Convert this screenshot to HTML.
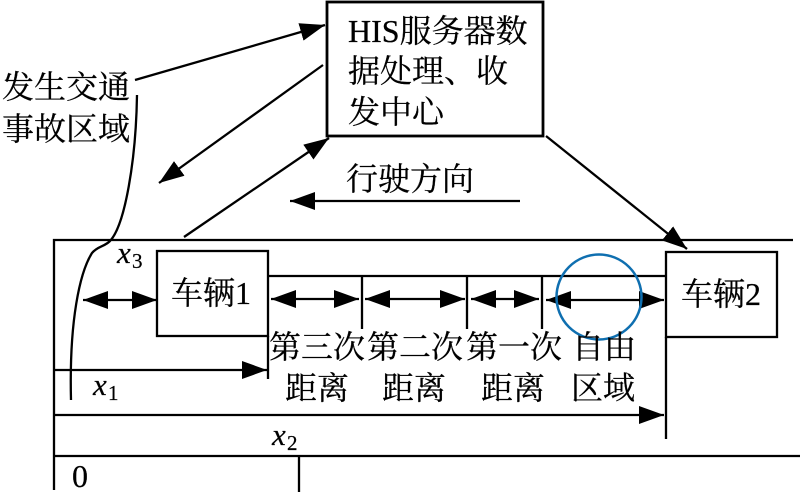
<!DOCTYPE html>
<html>
<head>
<meta charset="utf-8">
<style>
html,body{margin:0;padding:0;background:#fff;width:800px;height:497px;overflow:hidden}
svg{display:block}
text{font-family:"Liberation Serif","Noto Serif CJK SC",serif;font-size:32px;fill:#000;stroke:#000;stroke-width:.25px}
.i{font-style:italic;font-size:31px}
.s{font-size:21px}
</style>
</head>
<body>
<svg width="800" height="497" viewBox="0 0 800 497" xmlns="http://www.w3.org/2000/svg">
<defs>
<marker id="a" markerUnits="userSpaceOnUse" markerWidth="27" markerHeight="20" refX="25" refY="9" orient="auto-start-reverse">
<path d="M0 0L25 9L0 18Z" fill="#000"/>
</marker>
</defs>
<g fill="none" stroke="#000" stroke-width="2.3">
<rect x="327" y="2" width="216" height="134" stroke-width="2.8"/>
<rect x="157" y="251" width="111" height="85"/>
<rect x="666" y="252" width="111" height="85"/>
<path d="M54 490V240H793M54 456H800M299 456V492"/>
<path d="M268 276H666M362 276V329M467 276V329M542 276V329M268 336V379M666 337V439"/>
<path d="M137 95C136 160 125 225 110 241C104 247 98 246 92 253C80 272 69 320 71 400"/>
<path d="M135 80L325 25" marker-end="url(#a)"/>
<path d="M323 65L159 183" marker-end="url(#a)"/>
<path d="M184 237L329 138" marker-end="url(#a)"/>
<path d="M520 201H290" marker-end="url(#a)"/>
<path d="M546 136L687 249" marker-end="url(#a)"/>
<path d="M54 370H267" marker-end="url(#a)"/>
<path d="M54 415H664" marker-end="url(#a)"/>
<path d="M83 300H157" marker-start="url(#a)" marker-end="url(#a)"/>
<path d="M271 299H359" marker-start="url(#a)" marker-end="url(#a)"/>
<path d="M365 299H465" marker-start="url(#a)" marker-end="url(#a)"/>
<path d="M471 299H539" marker-start="url(#a)" marker-end="url(#a)"/>
<path d="M546 300H664" marker-start="url(#a)" marker-end="url(#a)"/>
</g>
<circle cx="599" cy="297" r="42.5" fill="none" stroke="#0f6fb0" stroke-width="2.5"/>
<text x="348" y="42">HIS服务器数</text>
<text x="348" y="82">据处理、收</text>
<text x="348" y="123">发中心</text>
<text x="2" y="98">发生交通</text>
<text x="2" y="140">事故区域</text>
<text x="346" y="190">行驶方向</text>
<text x="171" y="304">车辆1</text>
<text x="681" y="305">车辆2</text>
<text x="269" y="358">第三次</text>
<text x="367" y="358">第二次</text>
<text x="466" y="358">第一次</text>
<text x="572" y="358">自由</text>
<text x="285" y="399">距离</text>
<text x="382" y="399">距离</text>
<text x="481" y="399">距离</text>
<text x="571" y="399">区域</text>
<text class="i" x="117" y="263">x</text><text class="s" x="132" y="268">3</text>
<text class="i" x="93" y="395">x</text><text class="s" x="108" y="400">1</text>
<text class="i" x="272" y="445">x</text><text class="s" x="287" y="450">2</text>
<text x="72" y="487">0</text>
</svg>
</body>
</html>
